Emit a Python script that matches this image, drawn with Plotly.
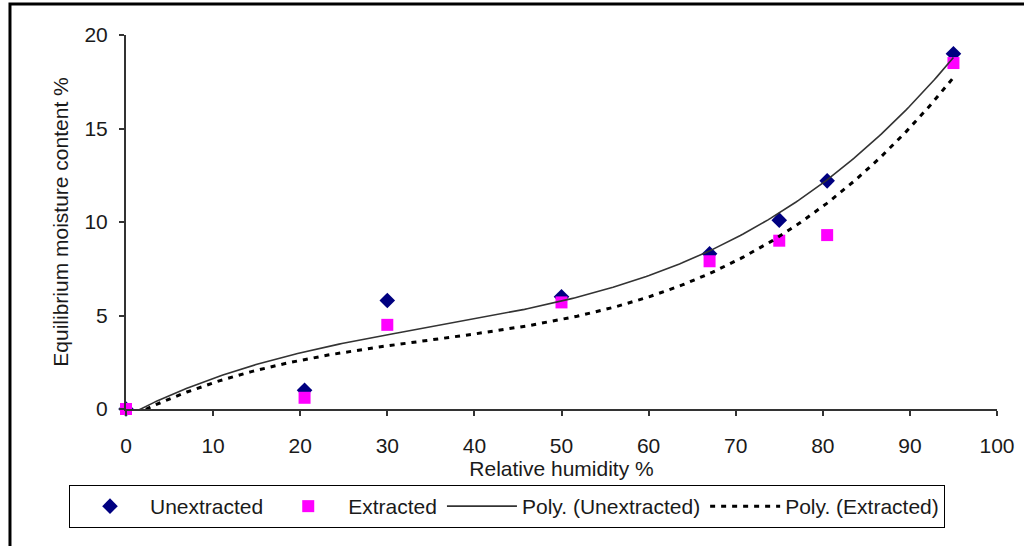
import numpy as np
import plotly.graph_objects as go

# Relative humidity (%) at which each sample was equilibrated
rh = [0, 20.5, 30, 50, 67, 75, 80.5, 95]
# Equilibrium moisture content (%)
emc_unextracted = [0, 1.0, 5.8, 6.0, 8.3, 10.1, 12.2, 19.0]
emc_extracted = [0, 0.6, 4.5, 5.7, 7.9, 9.0, 9.3, 18.5]

x_ticks = [0, 10, 20, 30, 40, 50, 60, 70, 80, 90, 100]
y_ticks = [0, 5, 10, 15, 20]

FONT = "Liberation Sans, Arial, sans-serif"
FONT_SIZE = 21
TEXT_COLOR = "#1a1a1a"
POLY_ORDER = 3

# Polynomial trendlines fitted to each series
x_fit = np.linspace(min(rh), max(rh), 300)
fit_unext = np.polyval(np.polyfit(rh, emc_unextracted, POLY_ORDER), x_fit)
fit_ext = np.polyval(np.polyfit(rh, emc_extracted, POLY_ORDER), x_fit)

fig = go.Figure()
fig.add_trace(go.Scatter(
    x=rh, y=emc_unextracted, mode="markers", name="Unextracted",
    marker=dict(symbol="diamond", size=12, color="#000080", line=dict(width=0)),
    cliponaxis=False,
))
fig.add_trace(go.Scatter(
    x=rh, y=emc_extracted, mode="markers", name="Extracted",
    marker=dict(symbol="square", size=12, color="#FF00FF", line=dict(width=0)),
    cliponaxis=False,
))
fig.add_trace(go.Scatter(
    x=x_fit, y=fit_unext, mode="lines", name="Poly. (Unextracted)",
    line=dict(color="#333333", width=1.6),
))
fig.add_trace(go.Scatter(
    x=x_fit, y=fit_ext, mode="lines", name="Poly. (Extracted)",
    line=dict(color="#000000", width=3, dash="5px,6px"),
))

axis_common = dict(
    showgrid=False, zeroline=False, showline=True, linecolor="#333333",
    linewidth=2, ticks="outside", ticklen=5, tickwidth=2, tickcolor="#333333",
    tickfont=dict(family=FONT, size=FONT_SIZE, color=TEXT_COLOR),
    automargin=False,
)
fig.update_xaxes(
    range=[0, 100], tickvals=x_ticks, ticktext=[str(v) for v in x_ticks],
    title=dict(text="Relative humidity %", font=dict(family=FONT, size=FONT_SIZE, color=TEXT_COLOR), standoff=5),
    ticklabelstandoff=12, **axis_common,
)
fig.update_yaxes(
    range=[0, 20], tickvals=y_ticks, ticktext=[str(v) for v in y_ticks],
    title=dict(text="Equilibrium moisture content %", font=dict(family=FONT, size=FONT_SIZE, color=TEXT_COLOR), standoff=10),
    ticklabelstandoff=7, **axis_common,
)

# Outer frame of the figure panel
fig.add_shape(type="rect", xref="paper", yref="paper",
              x0=-0.1332, x1=1.06, y0=-0.40, y1=1.0829,
              line=dict(color="#000000", width=3), fillcolor="rgba(0,0,0,0)", layer="below")

fig.update_layout(
    width=1024, height=546,
    margin=dict(l=126, r=27, t=35, b=137),
    paper_bgcolor="white", plot_bgcolor="white",
    font=dict(family=FONT, size=FONT_SIZE, color=TEXT_COLOR),
    showlegend=True,
    legend=dict(
        orientation="h", xref="container", yref="container",
        x=69 / 1024, y=1 - 485 / 546, xanchor="left", yanchor="top",
        bordercolor="#000000", borderwidth=1, bgcolor="white",
        font=dict(family=FONT, size=FONT_SIZE, color=TEXT_COLOR),
        itemwidth=70,
    ),
)

fig.write_html("out.html")
